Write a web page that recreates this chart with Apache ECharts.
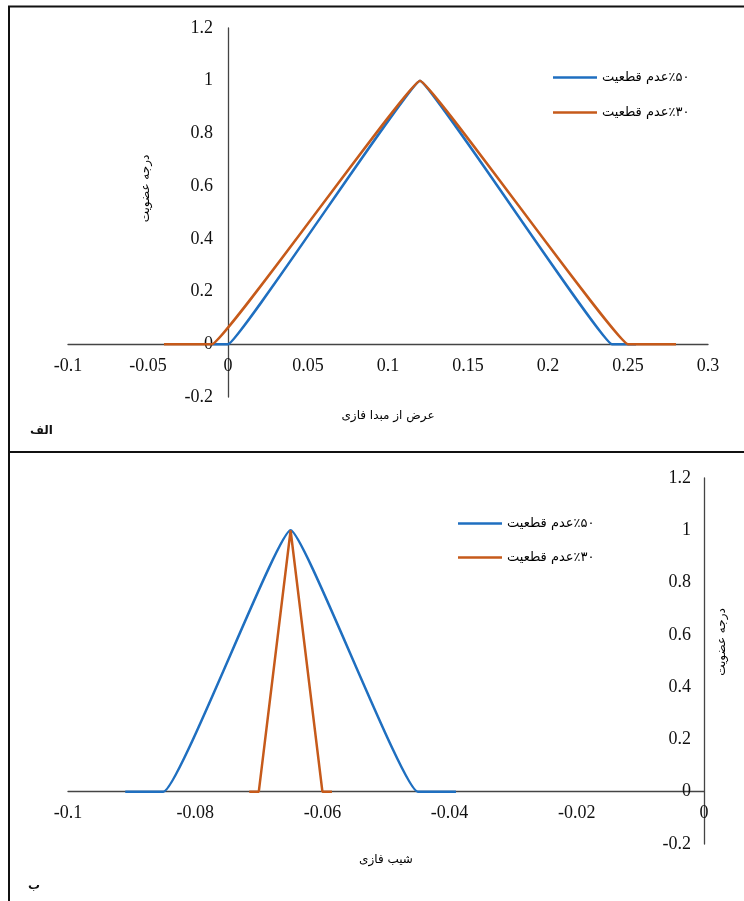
<!DOCTYPE html>
<html>
<head>
<meta charset="utf-8">
<script src="https://cdn.jsdelivr.net/npm/echarts@6/dist/echarts.min.js"></script>
<style>html,body{margin:0;padding:0;background:#fff}#c{width:744px;height:901px}</style>
</head>
<body>
<div id="c"></div>
<script>
// ---- data ----
const seriesNames = ['\u2067٪۵۰عدم قطعیت\u2069', '\u2067٪۳۰عدم قطعیت\u2069'];
// Panel "الف": intercept (عرض از مبدا فازی)
const topBlueX = [-0.01, 0, 0.12, 0.24, 0.255];
const topBlueY = [0, 0, 1, 0, 0];
const topOrangeX = [-0.04, -0.01, 0.12, 0.25, 0.28];
const topOrangeY = [0, 0, 1, 0, 0];
// Panel "ب": slope (شیب فازی)
const botBlueX = [-0.091, -0.085, -0.065, -0.045, -0.039];
const botBlueY = [0, 0, 1, 0, 0];
const botOrangeX = [-0.0715, -0.07, -0.065, -0.06, -0.0585];
const botOrangeY = [0, 0, 1, 0, 0];
const yTicks = {min: -0.2, max: 1.2, interval: 0.2};
const topXTicks = {min: -0.1, max: 0.3, interval: 0.05};
const botXTicks = {min: -0.1, max: 0, interval: 0.02};
const yName = 'درجه عضویت';
const topXName = 'عرض از مبدا فازی';
const botXName = 'شیب فازی';

const pair = (xs, ys) => xs.map((x, i) => [x, ys[i]]);
const BLUE = '#1F6FC0', ORANGE = '#C65A1A';
const numFont = {fontFamily: 'Liberation Serif', fontSize: 18, color: '#111'};
const faFont = {fontFamily: 'DejaVu Sans', fontSize: 12, color: '#000'};
const legFont = {fontFamily: 'DejaVu Sans', fontSize: 13, color: '#000'};
const axisLine = {show: true, onZero: false, lineStyle: {color: '#444', width: 1.3}};

// grid geometry (pixels)
const G1 = {left: 68, right: 36, top: 28, bottom: 504};
const G2 = {left: 68, right: 40, top: 478, bottom: 57};
const W = 744, H = 901;
const h1 = H - G1.top - G1.bottom, w1 = W - G1.left - G1.right;
const h2 = H - G2.top - G2.bottom;
// offsets so the axes sit on the zero of the other axis
const off1x = -h1 * (0 - yTicks.min) / (yTicks.max - yTicks.min);
const off1y = -w1 * (0 - topXTicks.min) / (topXTicks.max - topXTicks.min);
const off2x = -h2 * (0 - yTicks.min) / (yTicks.max - yTicks.min);

const chart = echarts.init(document.getElementById('c'));
chart.setOption({
  animation: false,
  grid: [
    Object.assign({outerBoundsMode: 'none', containLabel: false}, G1),
    Object.assign({outerBoundsMode: 'none', containLabel: false}, G2)
  ],
  xAxis: [
    {type: 'value', gridIndex: 0, min: topXTicks.min, max: topXTicks.max, interval: topXTicks.interval,
     offset: off1x,
     axisLine: axisLine, axisTick: {show: false}, splitLine: {show: false},
     axisLabel: Object.assign({margin: 13}, numFont),
     name: topXName, nameLocation: 'middle', nameGap: 66, nameTextStyle: faFont},
    {type: 'value', gridIndex: 1, min: botXTicks.min, max: botXTicks.max, interval: botXTicks.interval,
     offset: off2x,
     axisLine: axisLine, axisTick: {show: false}, splitLine: {show: false},
     axisLabel: Object.assign({margin: 13}, numFont),
     name: botXName, nameLocation: 'middle', nameGap: 62, nameTextStyle: faFont}
  ],
  yAxis: [
    {type: 'value', gridIndex: 0, min: yTicks.min, max: yTicks.max, interval: yTicks.interval,
     offset: off1y,
     axisLine: axisLine, axisTick: {show: false}, splitLine: {show: false},
     axisLabel: Object.assign({margin: 15}, numFont),
     name: yName, nameLocation: 'middle', nameGap: 76,
     nameTextStyle: Object.assign({padding: [0, 0, 0, 48]}, faFont)},
    {type: 'value', gridIndex: 1, position: 'right', min: yTicks.min, max: yTicks.max, interval: yTicks.interval,
     axisLine: axisLine, axisTick: {show: false}, splitLine: {show: false},
     axisLabel: Object.assign({margin: 13, inside: true}, numFont),
     name: yName, nameLocation: 'middle', nameGap: 12, nameRotate: 90,
     nameTextStyle: Object.assign({padding: [0, 0, 0, 38]}, faFont)}
  ],
  legend: [
    {orient: 'vertical', left: 553, top: 71, padding: 0, itemWidth: 44, itemHeight: 14, itemGap: 22,
     data: seriesNames, textStyle: legFont, icon: 'path://M0,6 L44,6 L44,8.5 L0,8.5 Z'},
    {orient: 'vertical', left: 458, top: 517, padding: 0, itemWidth: 44, itemHeight: 14, itemGap: 21,
     data: seriesNames, textStyle: legFont, icon: 'path://M0,6 L44,6 L44,8.5 L0,8.5 Z'}
  ],
  series: [
    {name: seriesNames[0], type: 'line', xAxisIndex: 0, yAxisIndex: 0, data: pair(topBlueX, topBlueY),
     symbol: 'none', smooth: 0.05, lineStyle: {color: BLUE, width: 2.5}, itemStyle: {color: BLUE}},
    {name: seriesNames[1], type: 'line', xAxisIndex: 0, yAxisIndex: 0, data: pair(topOrangeX, topOrangeY),
     symbol: 'none', smooth: 0.05, lineStyle: {color: ORANGE, width: 2.5}, itemStyle: {color: ORANGE}},
    {name: seriesNames[0], type: 'line', xAxisIndex: 1, yAxisIndex: 1, data: pair(botBlueX, botBlueY),
     symbol: 'none', smooth: 0.1, lineStyle: {color: BLUE, width: 2.5}, itemStyle: {color: BLUE}},
    {name: seriesNames[1], type: 'line', xAxisIndex: 1, yAxisIndex: 1, data: pair(botOrangeX, botOrangeY),
     symbol: 'none', smooth: false, lineStyle: {color: ORANGE, width: 2.5}, itemStyle: {color: ORANGE}}
  ],
  graphic: [
    {type: 'rect', shape: {x: 9, y: 6.5, width: 740, height: 900}, style: {fill: 'none', stroke: '#111', lineWidth: 2}, silent: true},
    {type: 'line', shape: {x1: 9, y1: 452, x2: 744, y2: 452}, style: {stroke: '#111', lineWidth: 2}, silent: true},
    {type: 'text', left: 30, top: 425, style: {text: 'الف', font: 'bold 12px DejaVu Sans', fill: '#111'}},
    {type: 'text', left: 28, top: 880, style: {text: 'ب', font: 'bold 12px DejaVu Sans', fill: '#111'}}
  ]
});
</script>
</body>
</html>
